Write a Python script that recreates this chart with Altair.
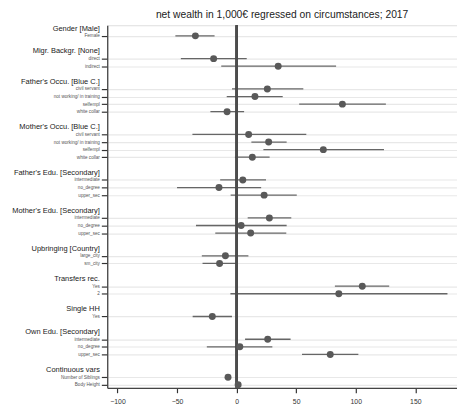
import json
import altair as alt
import pandas as pd

# ---- data -------------------------------------------------------------
groups = [
    "Gender [Male]", "Migr. Backgr. [None]", "Father's Occu. [Blue C.]",
    "Mother's Occu. [Blue C.]", "Father's Edu. [Secondary]",
    "Mother's Edu. [Secondary]", "Upbringing [Country]", "Transfers rec.",
    "Single HH", "Own Edu. [Secondary]", "Continuous vars",
]
items = [
    ["Female"],
    ["direct", "indirect"],
    ["civil servant", "not working/ in training", "selfempl", "white collar"],
    ["civil servant", "not working/ in training", "selfempl", "white collar"],
    ["intermediate", "no_degree", "upper_sec"],
    ["intermediate", "no_degree", "upper_sec"],
    ["large_city", "sm_city"],
    ["Yes", "2"],
    ["Yes"],
    ["intermediate", "no_degree", "upper_sec"],
    ["Number of Siblings", "Body Height"],
]
coef = [
    [-34.6],
    [-19.3, 34.9],
    [25.8, 15.4, 88.8, -8.0],
    [10.1, 26.9, 72.8, 13.2],
    [5.2, -14.8, 23.1],
    [27.5, 3.8, 11.8],
    [-9.4, -14.3],
    [105.5, 85.8],
    [-20.4],
    [26.1, 2.7, 78.6],
    [-7.2, 1.3],
]
ci_low = [
    [-51.4],
    [-46.8, -12.9],
    [-3.9, -8.3, 52.5, -22.0],
    [-37.1, 12.4, 22.5, -1.4],
    [-13.8, -50.0, -5.0],
    [9.3, -34.1, -17.9],
    [-29.2, -28.6],
    [82.5, -5.2],
    [-36.9],
    [7.1, -25.0, 54.9],
    [-9.0, 0.3],
]
ci_high = [
    [-18.5],
    [8.5, 83.5],
    [56.0, 38.7, 125.3, 6.3],
    [58.5, 42.0, 123.7, 27.7],
    [24.7, 20.6, 50.5],
    [45.9, 42.0, 41.7],
    [9.9, -0.6],
    [128.1, 177.0],
    [-3.9],
    [45.3, 30.0, 102.2],
    [-5.4, 2.3],
]
title_text = "net wealth in 1,000€ regressed on circumstances; 2017"
x_ticks = [-100, -50, 0, 50, 100, 150]

# ---- build slot table ---------------------------------------------------
rows = []
labels = []
header_slots = []
slot = 0
for gi, g in enumerate(groups):
    if gi > 0:
        labels.append("")
        slot += 1
    labels.append(g)
    header_slots.append(slot)
    slot += 1
    for it, c, lo, hi in zip(items[gi], coef[gi], ci_low[gi], ci_high[gi]):
        labels.append(it)
        rows.append({"pos": slot, "label": it, "coef": c, "lo": lo, "hi": hi})
        slot += 1
n_slots = slot
df = pd.DataFrame(rows)
axis_values = [i for i, l in enumerate(labels) if l != ""]

label_expr = "[" + ",".join(json.dumps(l) for l in labels) + "][datum.value]"
is_header = "indexof(" + json.dumps(header_slots) + ", datum.value) >= 0"

FONT = "Liberation Sans"
DARK = "#595959"

yscale = alt.Scale(domain=[-0.4, n_slots - 1 + 0.4], reverse=True, nice=False, zero=False)
xscale = alt.Scale(domain=[-108.6, 185.0], nice=False, zero=False)

yaxis = alt.Axis(
    values=axis_values,
    labelExpr=label_expr,
    labelOverlap=False,
    labelFlush=False,
    labelFont=FONT,
    labelFontSize={"condition": {"test": is_header, "value": 7.6}, "value": 4.7},
    labelColor={"condition": {"test": is_header, "value": "#1a1a1a"}, "value": "#555555"},
    labelPadding=2,
    tickSize=6,
    tickColor="#333333",
    tickWidth=1.2,
    tickOpacity={"condition": {"test": is_header, "value": 0}, "value": 1},
    grid=True,
    gridColor="#e8e8e8",
    gridWidth=1.2,
    gridOpacity={"condition": {"test": is_header, "value": 0}, "value": 1},
    domainColor="#444444",
    domainWidth=1.3,
    title=None,
)
xaxis = alt.Axis(
    values=x_ticks,
    grid=False,
    labelFont=FONT,
    labelFontSize=7,
    labelColor="#333333",
    labelFlush=False,
    labelPadding=5,
    tickSize=5,
    tickColor="#333333",
    tickWidth=1.2,
    domainColor="#444444",
    domainWidth=1.3,
    title=None,
)

base = alt.Chart(df)

ci = base.mark_rule(color="#666666", strokeWidth=1.3).encode(
    x=alt.X("lo:Q", scale=xscale, axis=xaxis),
    x2="hi:Q",
    y=alt.Y("pos:Q", scale=yscale, axis=yaxis),
)
zero = base.mark_rule(color="#4d4d4d", strokeWidth=1.4).encode(
    x=alt.X(datum=0, scale=xscale, axis=xaxis),
)
dots = base.mark_circle(color=DARK, opacity=1, size=50).encode(
    x=alt.X("coef:Q", scale=xscale, axis=xaxis),
    y=alt.Y("pos:Q", scale=yscale, axis=yaxis),
)

chart = (
    alt.layer(ci, zero, dots)
    .properties(
        width=356,
        height=369,
        padding={"left": 101, "top": 14, "right": 0, "bottom": 17},
        autosize="none",
        title=alt.TitleParams(
            title_text, font=FONT, fontSize=10.5, fontWeight="normal",
            color="#222222", anchor="middle", offset=4,
        ),
    )
    .configure_view(stroke=None)
    .configure(background="white")
)

chart.save("out.html", embed_options={"renderer": "svg", "actions": False})
